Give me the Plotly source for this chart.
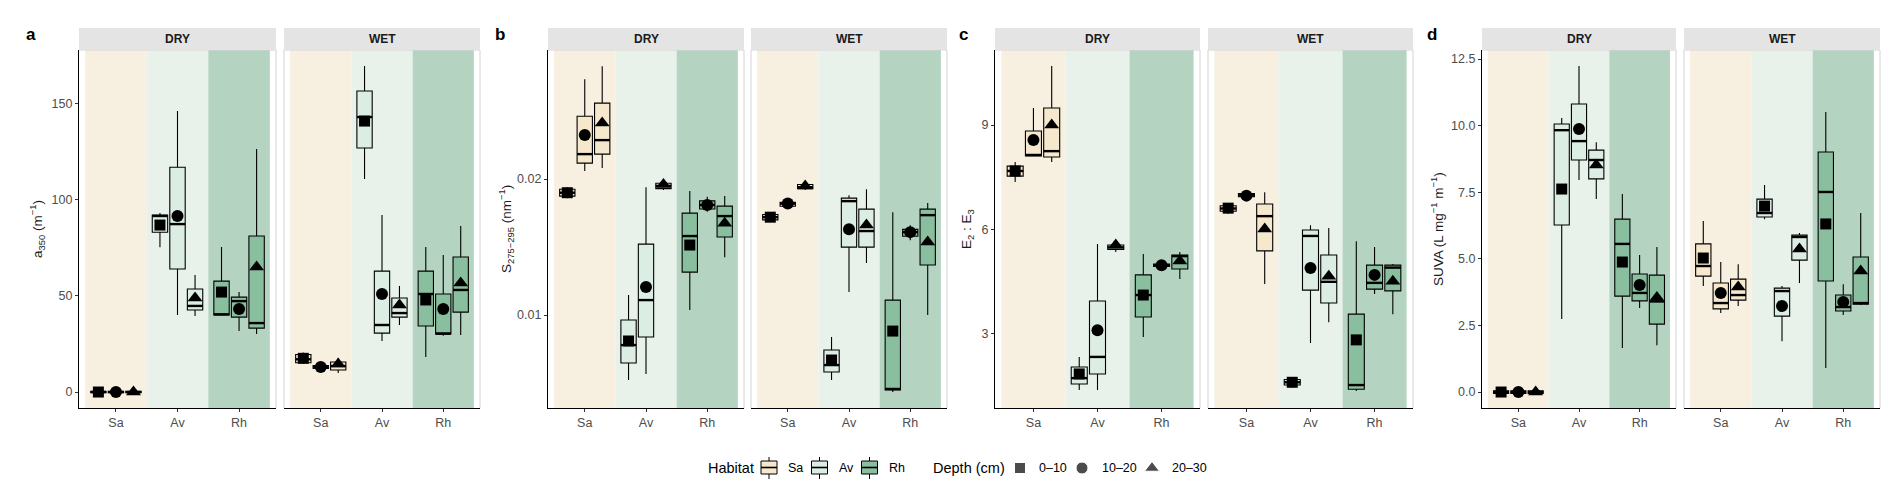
import plotly.graph_objects as go

W, H = 1892, 488

HABITATS = ['Sa', 'Av', 'Rh']
DEPTHS = ['0–10', '10–20', '20–30']
SEASONS = ['DRY', 'WET']

# one row per box: lower whisker, q1, median, q3, upper whisker, mean
# order: Sa (0-10, 10-20, 20-30), Av (...), Rh (...)
a350_dry = [
    (-0.8, -0.4, 0.0, 0.4, 0.8, 0.0), (-0.8, -0.4, 0.0, 0.4, 0.8, 0.0), (-0.8, -0.4, 0.0, 0.4, 0.8, 0.0),
    (75.2, 83.0, 91.4, 91.9, 93.0, 86.7), (40.0, 63.9, 87.2, 116.7, 145.9, 91.4), (39.5, 42.6, 44.7, 53.5, 60.7, 48.8),
    (40.0, 40.0, 40.3, 57.6, 75.3, 51.9), (31.7, 38.9, 47.2, 49.3, 51.9, 43.1), (30.1, 33.2, 35.8, 81.0, 126.2, 64.9),
]
a350_wet = [
    (14.5, 15.2, 17.0, 19.5, 20.5, 17.5), (11.5, 12.2, 13.0, 13.8, 14.2, 13.0), (9.9, 11.4, 13.5, 15.6, 17.7, 14.5),
    (110.6, 126.7, 142.8, 156.3, 169.3, 140.7), (26.5, 30.6, 34.8, 62.8, 91.9, 50.9), (34.8, 38.9, 41.0, 48.8, 55.0, 45.2),
    (18.2, 34.3, 50.9, 62.8, 75.3, 47.8), (29.2, 30.1, 30.3, 50.9, 71.1, 43.1), (29.6, 41.5, 53.0, 70.1, 86.2, 56.6),
]
s275_dry = [
    (0.0186, 0.01875, 0.0190, 0.01926, 0.0194, 0.0190), (0.02059, 0.02118, 0.02184, 0.02463, 0.02735, 0.02324),
    (0.02081, 0.02184, 0.02287, 0.02559, 0.02831, 0.02412),
    (0.00522, 0.00647, 0.00779, 0.00963, 0.01147, 0.00809), (0.00566, 0.00838, 0.0111, 0.01522, 0.01941, 0.01206),
    (0.0192, 0.0193, 0.0195, 0.0197, 0.0198, 0.0196),
    (0.01037, 0.01316, 0.01581, 0.0175, 0.01912, 0.01515), (0.0176, 0.0178, 0.0181, 0.0184, 0.0187, 0.0181),
    (0.01426, 0.01574, 0.01728, 0.01801, 0.01875, 0.01676),
]
s275_wet = [
    (0.0169, 0.0170, 0.0172, 0.0174, 0.0175, 0.0172), (0.0179, 0.0180, 0.0182, 0.0183, 0.0184, 0.0182),
    (0.0192, 0.0193, 0.0194, 0.0196, 0.0197, 0.0195),
    (0.00522, 0.00581, 0.00632, 0.00743, 0.00838, 0.00669), (0.01169, 0.0150, 0.01838, 0.0186, 0.01882, 0.01632),
    (0.01382, 0.0150, 0.01618, 0.01779, 0.01926, 0.01662),
    (0.00434, 0.00449, 0.00456, 0.0111, 0.01757, 0.00882), (0.0155, 0.0158, 0.0161, 0.0163, 0.0166, 0.0161),
    (0.0100, 0.01368, 0.01735, 0.01779, 0.01824, 0.01537),
]
e2e3_dry = [
    (7.36, 7.53, 7.68, 7.82, 7.94, 7.68), (8.11, 8.11, 8.14, 8.83, 9.49, 8.57), (7.94, 8.08, 8.25, 9.49, 10.70, 9.0),
    (1.38, 1.55, 1.72, 2.04, 2.33, 1.84), (1.38, 1.84, 2.33, 3.94, 5.58, 3.10), (5.35, 5.42, 5.48, 5.55, 5.60, 5.55),
    (2.90, 3.48, 4.11, 4.69, 5.29, 4.11), (4.90, 4.93, 4.97, 5.00, 5.03, 4.97), (4.57, 4.86, 5.23, 5.26, 5.35, 5.09),
]
e2e3_wet = [
    (6.45, 6.52, 6.60, 6.68, 6.75, 6.61), (6.90, 6.94, 6.98, 7.03, 7.07, 6.97), (4.43, 5.38, 6.38, 6.73, 7.07, 6.01),
    (1.45, 1.52, 1.60, 1.68, 1.75, 1.60), (2.73, 4.25, 5.81, 5.98, 6.12, 4.89), (3.33, 3.88, 4.49, 5.26, 6.04, 4.65),
    (1.35, 1.40, 1.52, 3.56, 5.66, 2.82), (4.14, 4.28, 4.46, 4.97, 5.49, 4.69), (3.56, 4.23, 4.90, 4.97, 5.00, 4.51),
]
suva_dry = [
    (-0.1, -0.05, 0.0, 0.05, 0.1, 0.0), (-0.1, -0.05, 0.0, 0.05, 0.1, 0.0), (-0.1, -0.05, 0.0, 0.05, 0.1, 0.0),
    (2.74, 6.27, 9.83, 10.06, 10.29, 7.62), (7.96, 8.71, 9.42, 10.81, 12.24, 9.87), (7.25, 8.00, 8.71, 9.08, 9.38, 8.52),
    (1.65, 3.60, 5.56, 6.49, 7.43, 4.88), (3.15, 3.42, 3.72, 4.43, 5.14, 4.02), (1.76, 2.55, 3.40, 4.39, 5.44, 3.55),
]
suva_wet = [
    (3.98, 4.35, 4.73, 5.56, 6.42, 5.03), (2.97, 3.12, 3.34, 4.09, 4.88, 3.72), (3.23, 3.45, 3.64, 4.24, 4.80, 3.94),
    (6.49, 6.57, 6.72, 7.24, 7.77, 6.98), (1.91, 2.85, 3.79, 3.90, 3.98, 3.23), (4.09, 4.95, 5.82, 5.89, 5.97, 5.37),
    (0.90, 4.17, 7.51, 9.01, 10.51, 6.31), (2.89, 3.04, 3.19, 3.64, 4.05, 3.38), (3.27, 3.30, 3.34, 5.07, 6.72, 4.54),
]

# style
FONT = 'Liberation Sans, Arial, sans-serif'
band_colors = ['#F7EFDF', '#E8F2EB', '#B4D4C1']
box_fills = ['#F6E8CC', '#DCEDE3', '#89BE9E']
symbols = ['square', 'circle', 'triangle-up']
sym_sizes = [11, 12, 13]
BOX_W = 0.25
DODGE = 0.285
TICKFONT = dict(size=12.5, color='#4D4D4D')

# panel layout in pixels: (letter, dry data, wet data, y range, ticks, tickformat, y title,
#                          dry x0,x1, wet x0,x1, letter x, title x)
panels = [
    ('a', a350_dry, a350_wet, [-8.3, 177.6], [0, 50, 100, 150], None,
     'a<sub>350</sub> (m<sup>−1</sup>)', (71, 268), (276, 472), 23, 29),
    ('b', s275_dry, s275_wet, [0.00316, 0.0295], [0.01, 0.02], None,
     'S<sub>275−295</sub> (nm<sup>−1</sup>)', (540, 736), (743, 939), 492, 498),
    ('c', e2e3_dry, e2e3_wet, [0.86, 11.16], [3, 6, 9], None,
     'E<sub>2</sub> : E<sub>3</sub>', (987, 1192), (1200, 1405), 956, 960),
    ('d', suva_dry, suva_wet, [-0.6, 12.84], [0, 2.5, 5, 7.5, 10, 12.5], '.1f',
     'SUVA (L mg<sup>−1</sup> m<sup>−1</sup>)', (1474, 1668), (1676, 1872), 1424, 1429),
]

TOP, BOTTOM, STRIP_TOP = 42, 400, 20


def px(x):
    return x / W


def py(y):
    return 1 - y / H


def note(text, x, y, size, xanchor='center', color='black', weight='normal', **kw):
    return dict(text=text, xref='paper', yref='paper', x=px(x), y=py(y), xanchor=xanchor,
                yanchor='middle', showarrow=False,
                font=dict(size=size, color=color, weight=weight), **kw)


fig = go.Figure()
layout = dict(shapes=[], annotations=[])

for p, (letter, dry, wet, yrange, ticks, tfmt, ytitle, dxs, wxs, lx, tx) in enumerate(panels):
    for s, (season, rows, xs) in enumerate(zip(SEASONS, [dry, wet], [dxs, wxs])):
        k = p * 2 + s + 1
        xa = 'x' if k == 1 else f'x{k}'
        ya = 'y' if k == 1 else f'y{k}'
        xkey = 'xaxis' if k == 1 else f'xaxis{k}'
        ykey = 'yaxis' if k == 1 else f'yaxis{k}'

        layout[xkey] = dict(domain=[px(xs[0]), px(xs[1])], anchor=ya, range=[0.4, 3.6],
                            tickvals=[1, 2, 3], ticktext=HABITATS, showline=True,
                            linecolor='black', linewidth=1.2, ticks='outside', ticklen=3,
                            tickcolor='#333333', tickfont=TICKFONT,
                            showgrid=False, zeroline=False, fixedrange=True)
        ydict = dict(domain=[py(BOTTOM), py(TOP)], anchor=xa, range=yrange, tickvals=ticks,
                     showgrid=False, zeroline=False, fixedrange=True)
        if s == 0:
            ydict.update(showline=True, linecolor='black', linewidth=1.2, ticks='outside',
                         ticklen=3, tickcolor='#333333', tickfont=TICKFONT)
            if tfmt:
                ydict['tickformat'] = tfmt
        else:
            ydict.update(showticklabels=False, showline=False, ticks='')
        layout[ykey] = ydict

        # habitat background bands
        for h in range(3):
            layout['shapes'].append(dict(type='rect', xref=xa, yref=f'{ya} domain',
                                         x0=h + 0.5, x1=h + 1.5, y0=0, y1=1,
                                         fillcolor=band_colors[h], line_width=0, layer='below'))
        # panel border (grey) on top/right, and left for WET facet
        border = [(xs[0], TOP, xs[1], TOP), (xs[1], TOP, xs[1], BOTTOM)]
        if s == 1:
            border.append((xs[0], TOP, xs[0], BOTTOM))
        for x0, y0, x1, y1 in border:
            layout['shapes'].append(dict(type='line', xref='paper', yref='paper',
                                         x0=px(x0), y0=py(y0), x1=px(x1), y1=py(y1),
                                         line=dict(color='#D4D4D4', width=1)))
        # strip
        layout['shapes'].append(dict(type='rect', xref='paper', yref='paper',
                                     x0=px(xs[0]), x1=px(xs[1]), y0=py(TOP), y1=py(STRIP_TOP),
                                     fillcolor='#E4E4E4', line_width=0))
        layout['annotations'].append(note(season, (xs[0] + xs[1]) / 2, (TOP + STRIP_TOP) / 2 + 0.5,
                                          12, color='#1A1A1A', weight='bold'))

        # boxes, one trace per habitat
        med_x, med_y = [], []
        for h in range(3):
            sub = rows[h * 3:(h + 1) * 3]
            pos = [h + 1 + (d - 1) * DODGE for d in range(3)]
            fig.add_trace(go.Box(
                x=pos, lowerfence=[r[0] for r in sub], q1=[r[1] for r in sub],
                median=[r[2] for r in sub], q3=[r[3] for r in sub],
                upperfence=[r[4] for r in sub], width=BOX_W, whiskerwidth=0,
                fillcolor=box_fills[h], line=dict(color='black', width=1.1),
                xaxis=xa, yaxis=ya, showlegend=False, hoverinfo='skip'))
            for d in range(3):
                med_x += [pos[d] - BOX_W / 2, pos[d] + BOX_W / 2, None]
                med_y += [sub[d][2], sub[d][2], None]
        # thicker median lines (ggplot style)
        fig.add_trace(go.Scatter(x=med_x, y=med_y, mode='lines',
                                 line=dict(color='black', width=2.4),
                                 xaxis=xa, yaxis=ya, showlegend=False, hoverinfo='skip'))
        # mean markers per depth
        for d in range(3):
            fig.add_trace(go.Scatter(
                x=[h + 1 + (d - 1) * DODGE for h in range(3)],
                y=[rows[h * 3 + d][5] for h in range(3)],
                mode='markers', marker=dict(symbol=symbols[d], size=sym_sizes[d], color='black'),
                xaxis=xa, yaxis=ya, showlegend=False, hoverinfo='skip'))

    # panel letter and y-axis title
    layout['annotations'].append(note(letter, lx, 27, 17, weight='bold'))
    layout['annotations'].append(note(ytitle, tx, (TOP + BOTTOM) / 2, 13.5, textangle=-90,
                                      color='#1A1A1A'))

# legend (drawn by hand, ggplot style)
LEG_Y = 460
layout['annotations'].append(note('Habitat', 698, LEG_Y, 14.5, xanchor='left'))
key_cx = [761, 811.5, 861.5]
key_tx = [778, 829, 879]
for h in range(3):
    cx = key_cx[h]
    layout['shapes'].append(dict(type='line', xref='paper', yref='paper', x0=px(cx), x1=px(cx),
                                 y0=py(449), y1=py(471), line=dict(color='black', width=1)))
    layout['shapes'].append(dict(type='rect', xref='paper', yref='paper', x0=px(cx - 8), x1=px(cx + 8),
                                 y0=py(466), y1=py(453), fillcolor=box_fills[h],
                                 line=dict(color='black', width=1)))
    layout['shapes'].append(dict(type='line', xref='paper', yref='paper', x0=px(cx - 8), x1=px(cx + 8),
                                 y0=py(459.5), y1=py(459.5), line=dict(color='black', width=1.6)))
    layout['annotations'].append(note(HABITATS[h], key_tx[h], LEG_Y, 12.5, xanchor='left'))

layout['annotations'].append(note('Depth (cm)', 923, LEG_Y, 14.5, xanchor='left'))
dep_cx = [1012, 1074, 1144]
dep_tx = [1029, 1092, 1162]
fig.add_trace(go.Scatter(x=dep_cx, y=[LEG_Y] * 3, mode='markers',
                         marker=dict(symbol=symbols, size=sym_sizes, color='black'),
                         xaxis='x9', yaxis='y9', showlegend=False, hoverinfo='skip'))
layout['xaxis9'] = dict(domain=[0, 1], range=[0, W], visible=False, fixedrange=True, anchor='y9')
layout['yaxis9'] = dict(domain=[0, 1], range=[H, 0], visible=False, fixedrange=True, anchor='x9')
for d in range(3):
    layout['annotations'].append(note(DEPTHS[d], dep_tx[d], LEG_Y, 12.5, xanchor='left'))

fig.update_layout(**layout)
fig.update_layout(width=W, height=H, margin=dict(l=0, r=0, t=0, b=0),
                  paper_bgcolor='white', plot_bgcolor='rgba(0,0,0,0)',
                  font=dict(family=FONT, color='black'), boxmode='overlay', showlegend=False)

fig.write_html('out.html')
